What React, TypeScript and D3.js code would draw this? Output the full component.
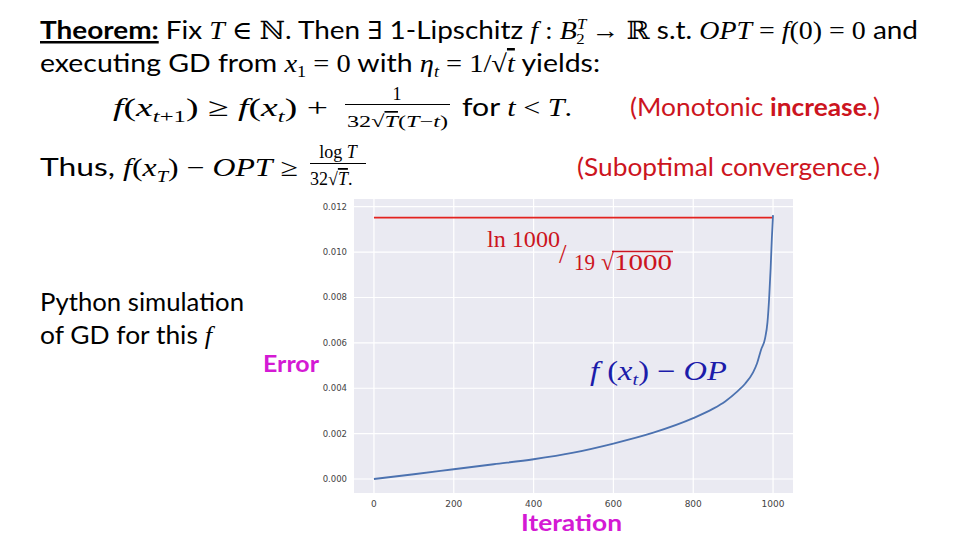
import React from "react";
import * as d3 from "d3";

// ---- data ----
const iterations = [0, 100, 200, 300, 400, 500, 600, 700, 800, 850, 880, 910, 930, 950, 960, 970, 980, 986, 990, 994, 997, 999, 1000];
const errors = [0, 0.00021, 0.00043, 0.00065, 0.00087, 0.00116, 0.00156, 0.00204, 0.00268, 0.0031, 0.00342, 0.00385, 0.0042, 0.0047, 0.0051, 0.0057, 0.0062, 0.0069, 0.0079, 0.0093, 0.0106, 0.0113, 0.01163];
const boundIter = [0, 1000];
const boundValue = [0.01152, 0.01152];
const xTicks = [0, 200, 400, 600, 800, 1000];
const yTicks = [0, 0.002, 0.004, 0.006, 0.008, 0.01, 0.012];

const SANS = "Lato, 'Open Sans', sans-serif";
const MATH = "'Liberation Serif', 'DejaVu Serif', serif";
const RED = "#cc1420";
const MAGENTA = "#d41ad4";

export default function App() {
  const plot = { left: 354, right: 793, top: 199, bottom: 493 };
  const x = d3.scaleLinear().domain([-50, 1050]).range([plot.left, plot.right]);
  const y = d3.scaleLinear().domain([-0.000617, 0.01234]).range([plot.bottom, plot.top]);

  const curve = d3
    .line<number>()
    .x((_, i) => x(iterations[i]))
    .y((d) => y(d))
    .curve(d3.curveMonotoneX)(errors) as string;
  const bound = d3
    .line<number>()
    .x((_, i) => x(boundIter[i]))
    .y((d) => y(d))(boundValue) as string;

  const mi = { fontFamily: MATH, fontStyle: "italic" } as const;
  const mr = { fontFamily: MATH } as const;

  return (
    <svg width={960} height={540} style={{ position: "absolute", left: 0, top: 0, background: "#fff" }}>
      <defs>
        <clipPath id="blueclip">
          <rect x={0} y={0} width={727} height={540} />
        </clipPath>
      </defs>

      {/* ---- header text ---- */}
      <text x={40} y={39} fontSize={25} fontFamily={SANS} fill="#000" textLength={878} lengthAdjust="spacingAndGlyphs">
        <tspan fontWeight="bold" textDecoration="underline">Theorem:</tspan>
        <tspan> Fix </tspan>
        <tspan {...mi}>T</tspan>
        <tspan {...mr}> ∈ ℕ</tspan>
        <tspan>. Then </tspan>
        <tspan {...mr}>∃</tspan>
        <tspan> 1-Lipschitz </tspan>
        <tspan {...mi}>f</tspan>
        <tspan {...mr}> : </tspan>
        <tspan {...mi}>B</tspan>
        <tspan {...mi} fontSize={15} dy={-10}>T</tspan>
        <tspan {...mr} fontSize={15} dx={-9} dy={15}>2</tspan>
        <tspan {...mr} dy={-5}> → ℝ</tspan>
        <tspan> s.t. </tspan>
        <tspan {...mi}>OPT</tspan>
        <tspan {...mr}> = </tspan>
        <tspan {...mi}>f</tspan>
        <tspan {...mr}>(0) = 0</tspan>
        <tspan> and</tspan>
      </text>

      <text x={40} y={72} fontSize={25} fontFamily={SANS} fill="#000" textLength={560} lengthAdjust="spacingAndGlyphs">
        <tspan>executing GD from </tspan>
        <tspan {...mi}>x</tspan>
        <tspan {...mr} fontSize={16} dy={5}>1</tspan>
        <tspan {...mr} dy={-5}> = 0</tspan>
        <tspan> with </tspan>
        <tspan {...mi}>η</tspan>
        <tspan {...mi} fontSize={16} dy={5}>t</tspan>
        <tspan {...mr} dy={-5}> = 1/√</tspan>
        <tspan {...mi} textDecoration="overline">t</tspan>
        <tspan> yields:</tspan>
      </text>

      {/* line 3 */}
      <text x={113} y={116} fontSize={26} fill="#000" textLength={215} lengthAdjust="spacingAndGlyphs" {...mr}>
        <tspan {...mi}>f</tspan>
        <tspan>(</tspan>
        <tspan {...mi}>x</tspan>
        <tspan {...mi} fontSize={17} dy={6}>t</tspan>
        <tspan fontSize={17}>+1</tspan>
        <tspan dy={-6}>) ≥ </tspan>
        <tspan {...mi}>f</tspan>
        <tspan>(</tspan>
        <tspan {...mi}>x</tspan>
        <tspan {...mi} fontSize={17} dy={6}>t</tspan>
        <tspan dy={-6}>) +</tspan>
      </text>
      <text x={397} y={100} fontSize={18} textAnchor="middle" {...mr} fill="#000">1</text>
      <line x1={345} x2={450} y1={104.5} y2={104.5} stroke="#000" strokeWidth={1} />
      <text x={347} y={127} fontSize={17} {...mr} fill="#000" textLength={101} lengthAdjust="spacingAndGlyphs">
        <tspan>32√</tspan>
        <tspan {...mi} textDecoration="overline">T</tspan>
        <tspan>(</tspan>
        <tspan {...mi}>T</tspan>
        <tspan>−</tspan>
        <tspan {...mi}>t</tspan>
        <tspan>)</tspan>
      </text>
      <text x={462} y={116} fontSize={25} fontFamily={SANS} fill="#000" textLength={110} lengthAdjust="spacingAndGlyphs">
        <tspan>for </tspan>
        <tspan {...mi}>t</tspan>
        <tspan {...mr}> &lt; </tspan>
        <tspan {...mi}>T</tspan>
        <tspan {...mr}>.</tspan>
      </text>
      <text x={630} y={116} fontSize={25} fontFamily={SANS} fill={RED} textLength={250} lengthAdjust="spacingAndGlyphs">
        <tspan>(Monotonic </tspan>
        <tspan fontWeight="bold">increase</tspan>
        <tspan>.)</tspan>
      </text>

      {/* line 4 */}
      <text x={40} y={176} fontSize={25} fontFamily={SANS} fill="#000" textLength={258} lengthAdjust="spacingAndGlyphs">
        <tspan>Thus, </tspan>
        <tspan {...mi}> f</tspan>
        <tspan {...mr}>(</tspan>
        <tspan {...mi}>x</tspan>
        <tspan {...mi} fontSize={16} dy={6}>T</tspan>
        <tspan {...mr} dy={-6}>) − </tspan>
        <tspan {...mi}>OPT</tspan>
        <tspan {...mr}> ≥</tspan>
      </text>
      <text x={338} y={158} fontSize={18} textAnchor="middle" {...mr} fill="#000">
        <tspan>log </tspan>
        <tspan {...mi}>T</tspan>
      </text>
      <line x1={310} x2={366} y1={163.5} y2={163.5} stroke="#000" strokeWidth={1} />
      <text x={310} y={185} fontSize={18} {...mr} fill="#000">
        <tspan>32√</tspan>
        <tspan {...mi} textDecoration="overline">T</tspan>
        <tspan>.</tspan>
      </text>
      <text x={577} y={176} fontSize={25} fontFamily={SANS} fill={RED} textLength={303} lengthAdjust="spacingAndGlyphs">
        (Suboptimal convergence.)
      </text>

      {/* left text */}
      <text x={40} y={311} fontSize={25} fontFamily={SANS} fill="#000" textLength={204} lengthAdjust="spacingAndGlyphs">Python simulation</text>
      <text x={40} y={344} fontSize={25} fontFamily={SANS} fill="#000" textLength={172} lengthAdjust="spacingAndGlyphs">
        <tspan>of GD for this </tspan>
        <tspan {...mi}>f</tspan>
      </text>

      {/* ---- chart ---- */}
      <rect x={plot.left} y={plot.top} width={plot.right - plot.left} height={plot.bottom - plot.top} fill="#eaeaf2" />
      {xTicks.map((t) => (
        <line key={"gx" + t} x1={x(t)} x2={x(t)} y1={plot.top} y2={plot.bottom} stroke="#fff" strokeWidth={1.2} />
      ))}
      {yTicks.map((t) => (
        <line key={"gy" + t} x1={plot.left} x2={plot.right} y1={y(t)} y2={y(t)} stroke="#fff" strokeWidth={1.2} />
      ))}
      {xTicks.map((t) => (
        <text key={"tx" + t} x={x(t)} y={507} fontSize={9} textAnchor="middle" fontFamily="'DejaVu Sans', sans-serif" fill="#444">
          {d3.format("d")(t)}
        </text>
      ))}
      {yTicks.map((t) => (
        <text key={"ty" + t} x={347} y={y(t) + 3} fontSize={8.5} textAnchor="end" fontFamily="'DejaVu Sans', sans-serif" fill="#444">
          {d3.format(".3f")(t)}
        </text>
      ))}

      <path d={bound} fill="none" stroke="#e3231f" strokeWidth={1.8} />
      <path d={curve} fill="none" stroke="#4c72b0" strokeWidth={1.8} />

      {/* red formula label */}
      <text x={487} y={247} fontSize={24} {...mr} fill={RED} textLength={73} lengthAdjust="spacingAndGlyphs">ln 1000</text>
      <text x={559} y={263} fontSize={27} {...mr} fill={RED}>/</text>
      <text x={574} y={270} fontSize={24} {...mr} fill={RED} textLength={21} lengthAdjust="spacingAndGlyphs">19</text>
      <text x={601} y={270} fontSize={24} {...mr} fill={RED}>√</text>
      <text x={614} y={270} fontSize={24} {...mr} fill={RED} textLength={58} lengthAdjust="spacingAndGlyphs">1000</text>
      <line x1={612} x2={673} y1={251.5} y2={251.5} stroke={RED} strokeWidth={1.5} />

      {/* blue label, clipped */}
      <text x={590} y={380} fontSize={27} {...mr} fill="#1c1caa" clipPath="url(#blueclip)" textLength={155} lengthAdjust="spacingAndGlyphs">
        <tspan {...mi}>f</tspan>
        <tspan> (</tspan>
        <tspan {...mi}>x</tspan>
        <tspan {...mi} fontSize={17} dy={5}>t</tspan>
        <tspan dy={-5}>) − </tspan>
        <tspan {...mi}>OPT</tspan>
      </text>

      {/* axis labels */}
      <text x={263} y={372} fontSize={22} fontWeight="bold" fontFamily={SANS} fill={MAGENTA} textLength={56} lengthAdjust="spacingAndGlyphs">Error</text>
      <text x={521} y={531} fontSize={23} fontWeight="bold" fontFamily={SANS} fill={MAGENTA} textLength={101} lengthAdjust="spacingAndGlyphs">Iteration</text>
    </svg>
  );
}
